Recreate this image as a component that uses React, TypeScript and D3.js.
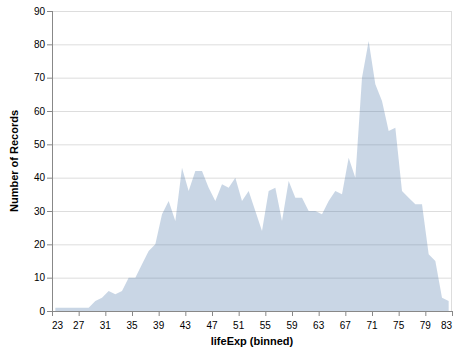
import React from "react";
import * as d3 from "d3";

const lifeExpBins: number[] = [
  23, 24, 25, 26, 27, 28, 29, 30, 31, 32, 33, 34, 35, 36, 37, 38, 39, 40, 41, 42,
  43, 44, 45, 46, 47, 48, 49, 50, 51, 52, 53, 54, 55, 56, 57, 58, 59, 60, 61, 62,
  63, 64, 65, 66, 67, 68, 69, 70, 71, 72, 73, 74, 75, 76, 77, 78, 79, 80, 81, 82,
];
const binWidth = 1;
const recordCounts: number[] = [
  1, 1, 1, 1, 1, 1, 3, 4, 6, 5, 6, 10, 10, 14, 18, 20, 29, 33, 27, 43,
  36, 42, 42, 37, 33, 38, 37, 40, 33, 36, 30, 24, 36, 37, 27, 39, 34, 34, 30, 30,
  29, 33, 36, 35, 46, 40, 70, 81, 68, 63, 54, 55, 36, 34, 32, 32, 17, 15, 4, 3,
];
const xTicks: number[] = [23, 27, 31, 35, 39, 43, 47, 51, 55, 59, 63, 67, 71, 75, 79, 83];
const yTicks: number[] = [0, 10, 20, 30, 40, 50, 60, 70, 80, 90];
const xTitle = "lifeExp (binned)";
const yTitle = "Number of Records";

export default function App() {
  const W = 458, H = 351;
  const left = 52, right = 452, top = 11, bottom = 311;
  const x = d3.scaleLinear().domain([23, 83]).range([left, right]);
  const y = d3.scaleLinear().domain([0, 90]).range([bottom, top]);
  const data = lifeExpBins.map((b, i) => ({ mid: b + binWidth / 2, v: recordCounts[i] }));
  const area = d3
    .area<{ mid: number; v: number }>()
    .x((d) => x(d.mid))
    .y0(y(0))
    .y1((d) => y(d.v));
  const font = "'Liberation Sans', Arial, Helvetica, sans-serif";
  return (
    <svg
      width={W}
      height={H}
      style={{ position: "absolute", left: 0, top: 0, fontFamily: font }}
    >
      <rect x={0} y={0} width={W} height={H} fill="#fff" />
      {yTicks.map((t) => (
        <line key={"g" + t} x1={left} x2={right} y1={y(t) + 0.5} y2={y(t) + 0.5} stroke="#ddd" />
      ))}
      <line x1={right - 0.5} x2={right - 0.5} y1={top} y2={bottom} stroke="#ddd" />
      <path d={area(data) || ""} fill="#4c78a8" fillOpacity={0.3} />
      {/* y axis */}
      <line x1={left + 0.5} x2={left + 0.5} y1={top} y2={bottom + 0.5} stroke="#888" />
      {yTicks.map((t) => (
        <g key={"yt" + t}>
          <line x1={left - 5} x2={left} y1={y(t) + 0.5} y2={y(t) + 0.5} stroke="#888" />
          <text x={left - 7} y={y(t) + 3.5} fontSize={10} textAnchor="end" fill="#000">
            {t}
          </text>
        </g>
      ))}
      {/* x axis */}
      <line x1={left} x2={right} y1={bottom + 0.5} y2={bottom + 0.5} stroke="#888" />
      {xTicks.map((t, i) => (
        <g key={"xt" + t}>
          <line x1={x(t) + 0.5} x2={x(t) + 0.5} y1={bottom} y2={bottom + 5} stroke="#888" />
          <text
            x={i === 0 ? x(t) : i === xTicks.length - 1 ? x(t) : x(t)}
            y={bottom + 18}
            fontSize={10}
            textAnchor={i === 0 ? "start" : i === xTicks.length - 1 ? "end" : "middle"}
            fill="#000"
          >
            {t}
          </text>
        </g>
      ))}
      <text
        x={(left + right) / 2}
        y={345}
        fontSize={11}
        fontWeight="bold"
        textAnchor="middle"
        fill="#000"
      >
        {xTitle}
      </text>
      <text
        transform={`translate(18,${(top + bottom) / 2}) rotate(-90)`}
        fontSize={11}
        fontWeight="bold"
        textAnchor="middle"
        fill="#000"
      >
        {yTitle}
      </text>
    </svg>
  );
}
